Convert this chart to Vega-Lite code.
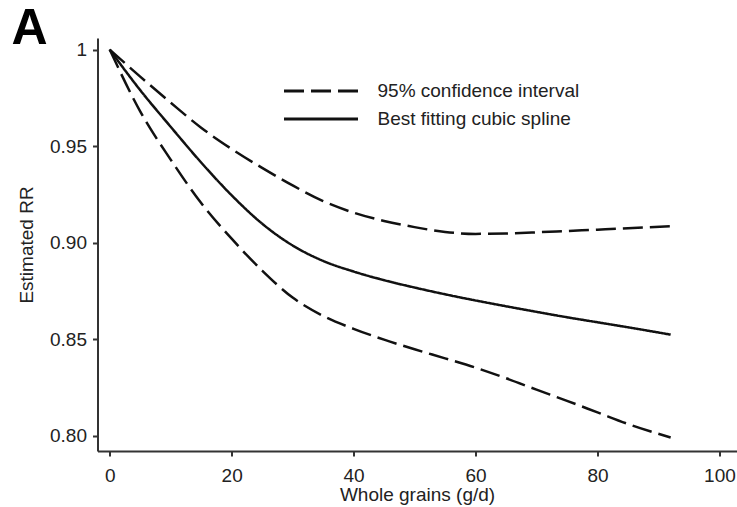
{
  "$schema": "https://vega.github.io/schema/vega-lite/v6.json",
  "autosize": {"type": "none"},
  "padding": {"left": 97.5, "top": 38, "right": 0.5, "bottom": 56},
  "width": 639,
  "height": 413,
  "background": "white",
  "title": {"text": "A", "anchor": "start", "frame": "group", "orient": "top", "offset": 0, "dx": -86, "dy": 16, "font": "Liberation Sans", "fontSize": 50, "fontWeight": "bold", "color": "#000"},
  "config": {
    "view": {"stroke": null},
    "axis": {"domainColor": "#333", "domainWidth": 2, "tickColor": "#333", "tickWidth": 2, "tickSize": 5, "labelColor": "#222", "labelFont": "Liberation Sans", "labelFontSize": 19, "titleFont": "Liberation Sans", "titleFontSize": 19, "titleFontWeight": "normal", "titleColor": "#222", "grid": false},
    "legend": {"labelFont": "Liberation Sans", "labelFontSize": 19, "labelColor": "#222"}
  },
  "data": {"values": [
    {"x": 0, "rr": 1.0, "curve": "upper", "band": "95% confidence interval"},
    {"x": 5, "rr": 0.986, "curve": "upper", "band": "95% confidence interval"},
    {"x": 10, "rr": 0.9725, "curve": "upper", "band": "95% confidence interval"},
    {"x": 15, "rr": 0.9595, "curve": "upper", "band": "95% confidence interval"},
    {"x": 20, "rr": 0.9485, "curve": "upper", "band": "95% confidence interval"},
    {"x": 25, "rr": 0.9387, "curve": "upper", "band": "95% confidence interval"},
    {"x": 30, "rr": 0.9296, "curve": "upper", "band": "95% confidence interval"},
    {"x": 35, "rr": 0.9215, "curve": "upper", "band": "95% confidence interval"},
    {"x": 40, "rr": 0.9155, "curve": "upper", "band": "95% confidence interval"},
    {"x": 45, "rr": 0.9112, "curve": "upper", "band": "95% confidence interval"},
    {"x": 50, "rr": 0.908, "curve": "upper", "band": "95% confidence interval"},
    {"x": 55, "rr": 0.9055, "curve": "upper", "band": "95% confidence interval"},
    {"x": 60, "rr": 0.9045, "curve": "upper", "band": "95% confidence interval"},
    {"x": 65, "rr": 0.9047, "curve": "upper", "band": "95% confidence interval"},
    {"x": 70, "rr": 0.9053, "curve": "upper", "band": "95% confidence interval"},
    {"x": 75, "rr": 0.906, "curve": "upper", "band": "95% confidence interval"},
    {"x": 80, "rr": 0.9067, "curve": "upper", "band": "95% confidence interval"},
    {"x": 85, "rr": 0.9074, "curve": "upper", "band": "95% confidence interval"},
    {"x": 92, "rr": 0.9085, "curve": "upper", "band": "95% confidence interval"},
    {"x": 0, "rr": 1.0, "curve": "fit", "band": "Best fitting cubic spline"},
    {"x": 5, "rr": 0.979, "curve": "fit", "band": "Best fitting cubic spline"},
    {"x": 10, "rr": 0.96, "curve": "fit", "band": "Best fitting cubic spline"},
    {"x": 15, "rr": 0.9415, "curve": "fit", "band": "Best fitting cubic spline"},
    {"x": 20, "rr": 0.9245, "curve": "fit", "band": "Best fitting cubic spline"},
    {"x": 25, "rr": 0.9098, "curve": "fit", "band": "Best fitting cubic spline"},
    {"x": 30, "rr": 0.8985, "curve": "fit", "band": "Best fitting cubic spline"},
    {"x": 35, "rr": 0.8905, "curve": "fit", "band": "Best fitting cubic spline"},
    {"x": 40, "rr": 0.885, "curve": "fit", "band": "Best fitting cubic spline"},
    {"x": 45, "rr": 0.8805, "curve": "fit", "band": "Best fitting cubic spline"},
    {"x": 50, "rr": 0.8767, "curve": "fit", "band": "Best fitting cubic spline"},
    {"x": 55, "rr": 0.8732, "curve": "fit", "band": "Best fitting cubic spline"},
    {"x": 60, "rr": 0.87, "curve": "fit", "band": "Best fitting cubic spline"},
    {"x": 65, "rr": 0.867, "curve": "fit", "band": "Best fitting cubic spline"},
    {"x": 70, "rr": 0.8641, "curve": "fit", "band": "Best fitting cubic spline"},
    {"x": 75, "rr": 0.8613, "curve": "fit", "band": "Best fitting cubic spline"},
    {"x": 80, "rr": 0.8587, "curve": "fit", "band": "Best fitting cubic spline"},
    {"x": 85, "rr": 0.8561, "curve": "fit", "band": "Best fitting cubic spline"},
    {"x": 92, "rr": 0.8523, "curve": "fit", "band": "Best fitting cubic spline"},
    {"x": 0, "rr": 1.0, "curve": "lower", "band": "95% confidence interval"},
    {"x": 5, "rr": 0.968, "curve": "lower", "band": "95% confidence interval"},
    {"x": 10, "rr": 0.943, "curve": "lower", "band": "95% confidence interval"},
    {"x": 15, "rr": 0.9205, "curve": "lower", "band": "95% confidence interval"},
    {"x": 20, "rr": 0.902, "curve": "lower", "band": "95% confidence interval"},
    {"x": 25, "rr": 0.8855, "curve": "lower", "band": "95% confidence interval"},
    {"x": 30, "rr": 0.8715, "curve": "lower", "band": "95% confidence interval"},
    {"x": 35, "rr": 0.862, "curve": "lower", "band": "95% confidence interval"},
    {"x": 40, "rr": 0.8553, "curve": "lower", "band": "95% confidence interval"},
    {"x": 45, "rr": 0.8497, "curve": "lower", "band": "95% confidence interval"},
    {"x": 50, "rr": 0.8447, "curve": "lower", "band": "95% confidence interval"},
    {"x": 55, "rr": 0.84, "curve": "lower", "band": "95% confidence interval"},
    {"x": 60, "rr": 0.8352, "curve": "lower", "band": "95% confidence interval"},
    {"x": 65, "rr": 0.8297, "curve": "lower", "band": "95% confidence interval"},
    {"x": 70, "rr": 0.8238, "curve": "lower", "band": "95% confidence interval"},
    {"x": 75, "rr": 0.818, "curve": "lower", "band": "95% confidence interval"},
    {"x": 80, "rr": 0.812, "curve": "lower", "band": "95% confidence interval"},
    {"x": 85, "rr": 0.806, "curve": "lower", "band": "95% confidence interval"},
    {"x": 92, "rr": 0.799, "curve": "lower", "band": "95% confidence interval"}
  ]},
  "mark": {"type": "line", "interpolate": "monotone", "color": "#111", "strokeWidth": 2.5},
  "encoding": {
    "x": {"field": "x", "type": "quantitative", "scale": {"domain": [-2, 102.8], "nice": false, "zero": false},
      "axis": {"values": [0, 20, 40, 60, 80, 100], "title": "Whole grains (g/d)", "labelPadding": 10, "titlePadding": 0, "labelFlush": false}},
    "y": {"field": "rr", "type": "quantitative", "scale": {"domain": [0.792, 1.006], "nice": false, "zero": false},
      "axis": {"values": [0.8, 0.85, 0.9, 0.95, 1], "labelExpr": "datum.value == 1 ? '1' : format(datum.value, '.2f')", "title": "Estimated RR", "labelPadding": 6, "titlePadding": 13}},
    "detail": {"field": "curve"},
    "strokeDash": {"field": "band", "type": "nominal",
      "scale": {"domain": ["95% confidence interval", "Best fitting cubic spline"], "range": [[20, 7], [1, 0]]},
      "legend": {"title": null, "orient": "none", "legendX": 185, "legendY": 40, "symbolType": "stroke", "symbolSize": 5476, "symbolStrokeWidth": 3, "symbolStrokeColor": "#111", "labelOffset": 18, "labelLimit": 400, "clipHeight": 26, "rowPadding": 2, "padding": 0}}
  }
}
